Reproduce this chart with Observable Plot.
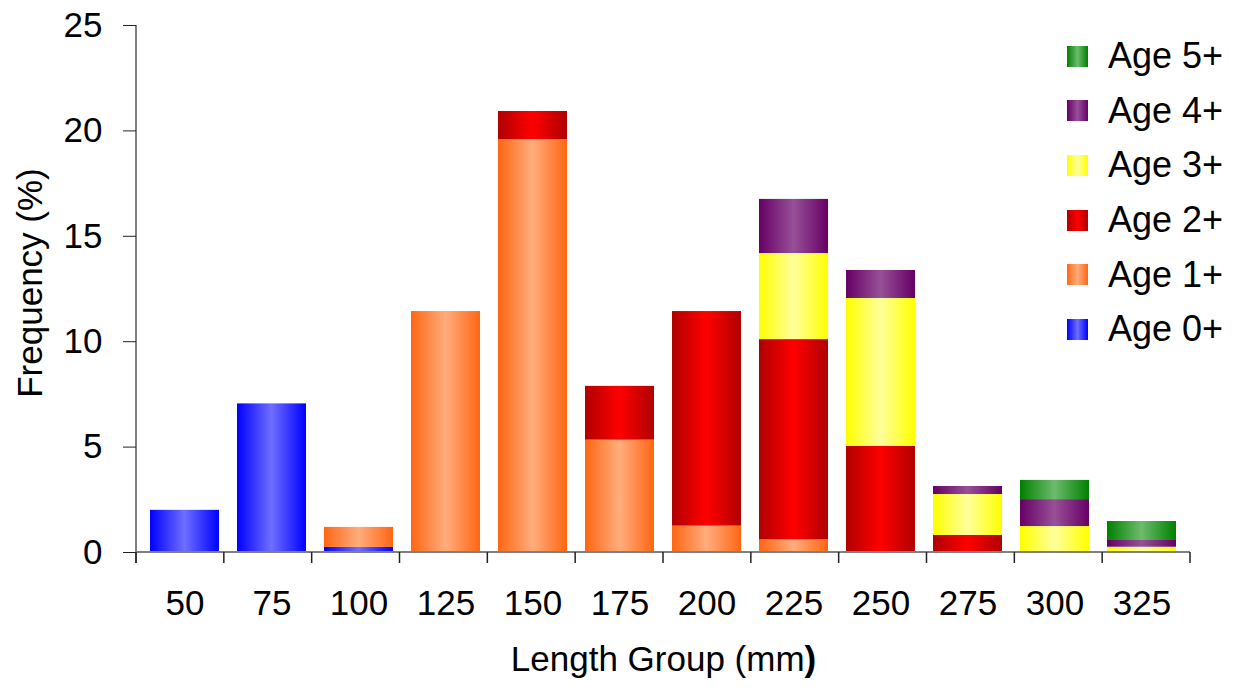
<!DOCTYPE html>
<html>
<head>
<meta charset="utf-8">
<script src="https://cdn.jsdelivr.net/npm/d3@7"></script>
<script src="https://cdn.jsdelivr.net/npm/@observablehq/plot@0.6"></script>
<style>
  html, body { margin: 0; padding: 0; background: #fff; }
  #wrap { position: relative; width: 1233px; height: 690px; font-family: "Liberation Sans", Arial, sans-serif; }
  #legend { position: absolute; left: 1067px; top: 29px; }
  .row { display: flex; align-items: center; height: 54.6px; }
  .sw { width: 21px; height: 21px; margin-right: 20px; }
  .lab { font-size: 36px; color: #000; line-height: 1; }
</style>
</head>
<body>
<div id="wrap"></div>
<script>
const lengths = [50, 75, 100, 125, 150, 175, 200, 225, 250, 275, 300, 325];
const ages = ["Age 0+", "Age 1+", "Age 2+", "Age 3+", "Age 4+", "Age 5+"];
const age0 = [2.0, 7.05, 0.24, 0, 0, 0, 0, 0, 0, 0, 0, 0];
const age1 = [0, 0, 0.95, 11.43, 19.59, 5.33, 1.25, 0.6, 0, 0, 0, 0];
const age2 = [0, 0, 0, 0, 1.33, 2.55, 10.18, 9.5, 5.03, 0.81, 0, 0];
const age3 = [0, 0, 0, 0, 0, 0, 0, 4.08, 7.02, 1.94, 1.23, 0.25];
const age4 = [0, 0, 0, 0, 0, 0, 0, 2.57, 1.33, 0.38, 1.28, 0.32];
const age5 = [0, 0, 0, 0, 0, 0, 0, 0, 0, 0, 0.91, 0.9];
const yTicks = [0, 5, 10, 15, 20, 25];
const xLabel = "Length Group (mm";
const xLabelEnd = ")";
const yLabel = "Frequency (%)";

const edgeColors = ["#0000ff", "#ff6612", "#b00000", "#ffff00", "#660066", "#008000"];
const centerColors = ["#6e6eff", "#ffad7d", "#ff0000", "#ffff9c", "#975097", "#6dbb6d"];
const gradIds = ages.map((a, i) => "grad" + i);

const series = [age0, age1, age2, age3, age4, age5];
const rows = [];
series.forEach((s, i) => s.forEach((v, j) => rows.push({length: lengths[j], age: ages[i], value: v})));

function decor(index, scales, values, dims) {
  const g = d3.create("svg:g");
  const x0 = dims.marginLeft, x1 = dims.width - dims.marginRight;
  const yb = dims.height - dims.marginBottom, yt = dims.marginTop;
  const n = lengths.length, step = (x1 - x0) / n;
  g.append("line").attr("x1", x0).attr("x2", x0).attr("y1", yt).attr("y2", yb + 11)
    .attr("stroke", "#808080").attr("stroke-width", 2);
  g.append("line").attr("x1", x0).attr("x2", x1).attr("y1", yb).attr("y2", yb)
    .attr("stroke", "#808080").attr("stroke-width", 2);
  for (let k = 0; k <= n; k++) {
    const x = x0 + k * step;
    g.append("line").attr("x1", x).attr("x2", x).attr("y1", yb).attr("y2", yb + 11)
      .attr("stroke", "#222").attr("stroke-width", 1.5);
  }
  return g.node();
}

const chart = Plot.plot({
  width: 1233,
  height: 690,
  marginTop: 25,
  marginBottom: 138,
  marginLeft: 136,
  marginRight: 43,
  style: {fontFamily: "'Liberation Sans', Arial, sans-serif", fontSize: "35px", color: "#000", background: "#fff"},
  x: {domain: lengths, paddingInner: 0.21, paddingOuter: 0.105, label: null},
  y: {domain: [0, 25], label: null},
  color: {domain: ages, range: gradIds.map(id => `url(#${id})`)},
  marks: [
    Plot.barY(rows, Plot.stackY({x: "length", y: "value", fill: "age", order: ages})),
    decor,
    Plot.axisY({ticks: yTicks, tickSize: 13, tickPadding: 21, label: null, fontSize: 35, stroke: "#222"}),
    Plot.axisX({tickSize: 0, tickPadding: 38, label: null, fontSize: 35}),
    Plot.text([xLabel], {frameAnchor: "bottom", dy: 118, fontSize: 35, className: "xlab", text: d => d}),
    Plot.text([yLabel], {frameAnchor: "left", textAnchor: "middle", dx: -106, dy: -6, rotate: -90, fontSize: 35, text: d => d})
  ]
});

const svg = d3.select(chart);
const defs = svg.insert("defs", ":first-child");
ages.forEach((a, i) => {
  const lg = defs.append("linearGradient").attr("id", gradIds[i])
    .attr("x1", "0").attr("x2", "1").attr("y1", "0").attr("y2", "0");
  lg.append("stop").attr("offset", "0%").attr("stop-color", edgeColors[i]);
  lg.append("stop").attr("offset", "50%").attr("stop-color", centerColors[i]);
  lg.append("stop").attr("offset", "100%").attr("stop-color", edgeColors[i]);
});
const xl = svg.select(".xlab text");
xl.text(null);
xl.append("tspan").text(xLabel);
xl.append("tspan").attr("font-weight", "bold").text(xLabelEnd);

const wrap = document.getElementById("wrap");
wrap.appendChild(chart);

const legend = document.createElement("div");
legend.id = "legend";
ages.slice().reverse().forEach(a => {
  const i = ages.indexOf(a);
  const row = document.createElement("div");
  row.className = "row";
  const sw = document.createElement("div");
  sw.className = "sw";
  sw.style.background = `linear-gradient(to right, ${edgeColors[i]}, ${centerColors[i]}, ${edgeColors[i]})`;
  const lab = document.createElement("span");
  lab.className = "lab";
  lab.textContent = a;
  row.appendChild(sw);
  row.appendChild(lab);
  legend.appendChild(row);
});
wrap.appendChild(legend);
</script>
</body>
</html>
